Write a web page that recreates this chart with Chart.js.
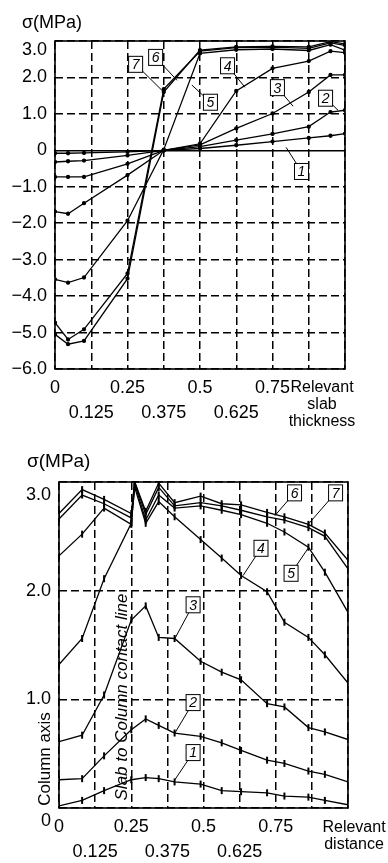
<!DOCTYPE html>
<html>
<head>
<meta charset="utf-8">
<script src="https://cdn.jsdelivr.net/npm/chart.js@4.4.0/dist/chart.umd.min.js"></script>
<style>
  body { margin: 0; background: #fff; }
  .wrap { width: 388px; }
</style>
</head>
<body>
<div class="wrap" style="height:432px"><canvas id="thickChart" width="388" height="432"></canvas></div>
<div class="wrap" style="height:431px"><canvas id="distChart" width="388" height="431"></canvas></div>
<script>
const FONT = '"Liberation Sans", Arial, sans-serif';

// ---- data: stress across slab thickness (top chart)
const thickX = [0, 0.045, 0.1, 0.25, 0.375, 0.5, 0.625, 0.75, 0.875, 0.95, 1.0];
const thickS1 = [-0.08, -0.08, -0.07, -0.04, 0, 0.05, 0.14, 0.24, 0.34, 0.40, 0.46];
const thickS2 = [-0.32, -0.30, -0.28, -0.14, 0, 0.10, 0.28, 0.45, 0.65, 1.05, 1.10];
const thickS3 = [-0.73, -0.73, -0.73, -0.37, 0, 0.15, 0.60, 1.01, 1.60, 2.07, 2.07];
const thickS4 = [-1.68, -1.74, -1.45, -0.68, 0, 0.18, 1.63, 2.25, 2.45, 2.72, 2.68];
const thickS5 = [-3.54, -3.63, -3.49, -1.93, 0.02, 2.66, 2.76, 2.78, 2.74, 2.90, 2.75];
const thickS6 = [-4.73, -5.19, -4.91, -3.38, 1.68, 2.72, 2.82, 2.83, 2.80, 2.95, 2.88];
const thickS7 = [-5.05, -5.32, -5.23, -3.52, 1.60, 2.75, 2.84, 2.85, 2.84, 2.98, 2.92];

// ---- data: stress along the distance (bottom chart)
const distX = [0, 0.08, 0.156, 0.25, 0.262, 0.3, 0.345, 0.4, 0.49, 0.563, 0.63, 0.72, 0.78, 0.863, 0.92, 1.0];
const distS1 = [0.02, 0.07, 0.16, 0.26, null, 0.28, 0.27, 0.24, 0.22, 0.16, 0.15, 0.14, 0.11, 0.10, 0.07, 0.03];
const distS2 = [0.26, 0.27, 0.48, 0.72, null, 0.82, 0.76, 0.69, 0.66, 0.60, 0.53, 0.44, 0.41, 0.34, 0.31, 0.24];
const distS3 = [0.61, 0.67, 1.04, 1.73, null, 1.86, 1.57, 1.56, 1.35, 1.25, 1.18, 0.96, 0.93, 0.74, 0.70, 0.63];
const distS4 = [1.32, 1.56, 2.11, 2.62, 2.95, 2.62, 2.82, 2.68, 2.47, 2.30, 2.14, 1.99, 1.71, 1.57, 1.41, 1.15];
const distS5 = [2.32, 2.52, 2.76, 2.61, 2.98, 2.65, 2.88, 2.76, 2.78, 2.74, 2.70, 2.62, 2.54, 2.40, 2.17, 1.80];
const distS6 = [2.66, 2.88, 2.80, 2.67, 3.00, 2.70, 2.95, 2.78, 2.81, 2.78, 2.74, 2.68, 2.65, 2.58, 2.50, 2.20];
const distS7 = [2.71, 2.93, 2.84, 2.71, 3.00, 2.73, 2.99, 2.81, 2.87, 2.80, 2.79, 2.72, 2.68, 2.61, 2.53, 2.28];

const curveNames = ['1', '2', '3', '4', '5', '6', '7'];

// ---- tick labels
const xTickLabels = ['0', '0.125', '0.25', '0.375', '0.5', '0.625', '0.75', '', ''];
const thickYTicks = [3, 2, 1, 0, -1, -2, -3, -4, -5, -6];
const thickYLabels = [['', '3.0'], '2.0', '1.0', '0', '−1.0', '−2.0', '−3.0', '−4.0', '−5.0', '−6.0'];
const distYTicks = [0, 1, 2, 3];
const distYLabels = [['', '0'], '1.0', '2.0', ['', '3.0']];

// numbered tags: box centre and leader end, in data units
const thickTags = [
  { n: '7', at: [0.278, 2.36], to: [0.372, 1.62] },
  { n: '6', at: [0.347, 2.55], to: [0.421, 1.92] },
  { n: '5', at: [0.536, 1.32], to: [0.472, 1.79] },
  { n: '4', at: [0.595, 2.32], to: [0.655, 1.73] },
  { n: '3', at: [0.767, 1.72], to: [0.821, 1.21] },
  { n: '2', at: [0.933, 1.43], to: [0.976, 1.10] },
  { n: '1', at: [0.850, -0.58], to: [0.797, 0.08] }
];
const distTags = [
  { n: '6', at: [0.815, 2.90], to: [0.747, 2.69] },
  { n: '7', at: [0.957, 2.90], to: [0.862, 2.61] },
  { n: '4', at: [0.699, 2.39], to: [0.637, 2.14] },
  { n: '5', at: [0.803, 2.16], to: [0.862, 2.39] },
  { n: '3', at: [0.464, 1.87], to: [0.401, 1.56] },
  { n: '2', at: [0.464, 0.97], to: [0.401, 0.69] },
  { n: '1', at: [0.464, 0.51], to: [0.401, 0.26] }
];

const extras = {
  thickChart: {
    title: 'σ(MPa)', titleAt: [22, 23], titleSize: 18,
    axisName: ['Relevant', 'slab', 'thickness'], axisNameAt: [322, 388], axisNameStep: 17,
    sideNotes: [],
    tags: thickTags
  },
  distChart: {
    title: 'σ(MPa)', titleAt: [27, 30], titleSize: 19,
    axisName: ['Relevant', 'distance'], axisNameAt: [354, 396], axisNameStep: 17,
    sideNotes: [
      { text: 'Column axis', at: [45, 327], font: '17px ' + FONT },
      { text: 'Slab to Column contact line', at: [122, 265], font: 'italic 17px ' + FONT }
    ],
    tags: distTags
  }
};

const frame = {
  id: 'frame',
  afterDatasetsDraw(chart) {
    const o = extras[chart.canvas.id];
    const { ctx, chartArea: a } = chart;
    const xs = chart.scales.x, ys = chart.scales.y;
    ctx.save();
    ctx.setLineDash([]);
    ctx.strokeStyle = '#000';
    ctx.fillStyle = '#000';
    ctx.lineWidth = 1.6;
    ctx.strokeRect(a.left, a.top, a.right - a.left, a.bottom - a.top);

    ctx.textBaseline = 'middle';
    ctx.textAlign = 'left';
    ctx.font = o.titleSize + 'px ' + FONT;
    ctx.fillText(o.title, o.titleAt[0], o.titleAt[1]);

    ctx.textAlign = 'center';
    ctx.font = '16px ' + FONT;
    o.axisName.forEach((s, i) => ctx.fillText(s, o.axisNameAt[0], o.axisNameAt[1] + i * o.axisNameStep));

    o.sideNotes.forEach(n => {
      ctx.save();
      ctx.translate(n.at[0], n.at[1]);
      ctx.rotate(-Math.PI / 2);
      ctx.font = n.font;
      ctx.fillText(n.text, 0, 0);
      ctx.restore();
    });

    ctx.lineWidth = 1;
    o.tags.forEach(t => {
      const bx = xs.getPixelForValue(t.at[0]), by = ys.getPixelForValue(t.at[1]);
      const tx = xs.getPixelForValue(t.to[0]), ty = ys.getPixelForValue(t.to[1]);
      ctx.beginPath();
      ctx.moveTo(bx, by);
      ctx.lineTo(tx, ty);
      ctx.stroke();
      ctx.fillStyle = '#fff';
      ctx.fillRect(bx - 7, by - 8, 14, 16);
      ctx.strokeRect(bx - 7, by - 8, 14, 16);
      ctx.fillStyle = '#000';
      ctx.font = 'italic 14px ' + FONT;
      ctx.fillText(t.n, bx, by + 1);
    });
    ctx.restore();
  }
};

function lines(xs, series, pointStyle) {
  return series.map((ys, i) => ({
    label: curveNames[i],
    data: xs.map((x, j) => ({ x: x, y: ys[j] })),
    borderColor: '#000',
    backgroundColor: '#000',
    borderWidth: 1.3,
    tension: 0,
    spanGaps: true,
    ...pointStyle
  }));
}

function xAxis(axisHeight) {
  return {
    type: 'linear', min: 0, max: 1,
    afterFit: s => { s.height = axisHeight; },
    afterBuildTicks: s => { s.ticks = xTickLabels.map((_, i) => ({ value: i * 0.125 })); },
    ticks: {
      autoSkip: false, maxRotation: 0, padding: 7, color: '#000',
      font: { family: FONT, size: 18, lineHeight: 1.36 },
      callback: v => {
        const i = Math.round(v / 0.125);
        const s = xTickLabels[i] || '';
        return i % 2 === 0 ? [s, ''] : ['', s];
      }
    },
    grid: { color: '#000', lineWidth: 1.5, drawTicks: false },
    border: { display: false, dash: [8, 4] }
  };
}

function yAxis(min, max, tickVals, tickLabels, axisWidth, lineHeight) {
  return {
    type: 'linear', min: min, max: max,
    afterFit: s => { s.width = axisWidth; },
    ticks: {
      stepSize: 1, padding: 8, color: '#000', autoSkip: false,
      font: { family: FONT, size: 18, lineHeight: lineHeight },
      callback: v => {
        const i = tickVals.indexOf(v);
        return i < 0 ? '' : tickLabels[i];
      }
    },
    grid: { color: '#000', lineWidth: 1.5, drawTicks: false },
    border: {
      display: false,
      dash: c => (c.tick && c.tick.value === 0 && min < 0) ? [] : [8, 4]
    }
  };
}

new Chart(document.getElementById('thickChart'), {
  type: 'line',
  data: {
    datasets: lines(thickX,
      [thickS1, thickS2, thickS3, thickS4, thickS5, thickS6, thickS7],
      { pointRadius: 1.5, pointStyle: 'circle' })
  },
  options: {
    responsive: false,
    animation: false,
    layout: { padding: { top: 41, right: 43, bottom: 0, left: 0 } },
    plugins: { legend: { display: false }, tooltip: { enabled: false } },
    scales: {
      x: xAxis(63),
      y: yAxis(-6, 3, thickYTicks, thickYLabels, 55, 1.0)
    }
  },
  plugins: [frame]
});

new Chart(document.getElementById('distChart'), {
  type: 'line',
  data: {
    datasets: lines(distX,
      [distS1, distS2, distS3, distS4, distS5, distS6, distS7],
      { pointRadius: 3.5, pointStyle: 'line', pointRotation: 90, pointBorderWidth: 2 })
  },
  options: {
    responsive: false,
    animation: false,
    layout: { padding: { top: 50, right: 40, bottom: 0, left: 0 } },
    plugins: { legend: { display: false }, tooltip: { enabled: false } },
    scales: {
      x: xAxis(55),
      y: yAxis(0, 3, distYTicks, distYLabels, 59, 1.4)
    }
  },
  plugins: [frame]
});
</script>
</body>
</html>
